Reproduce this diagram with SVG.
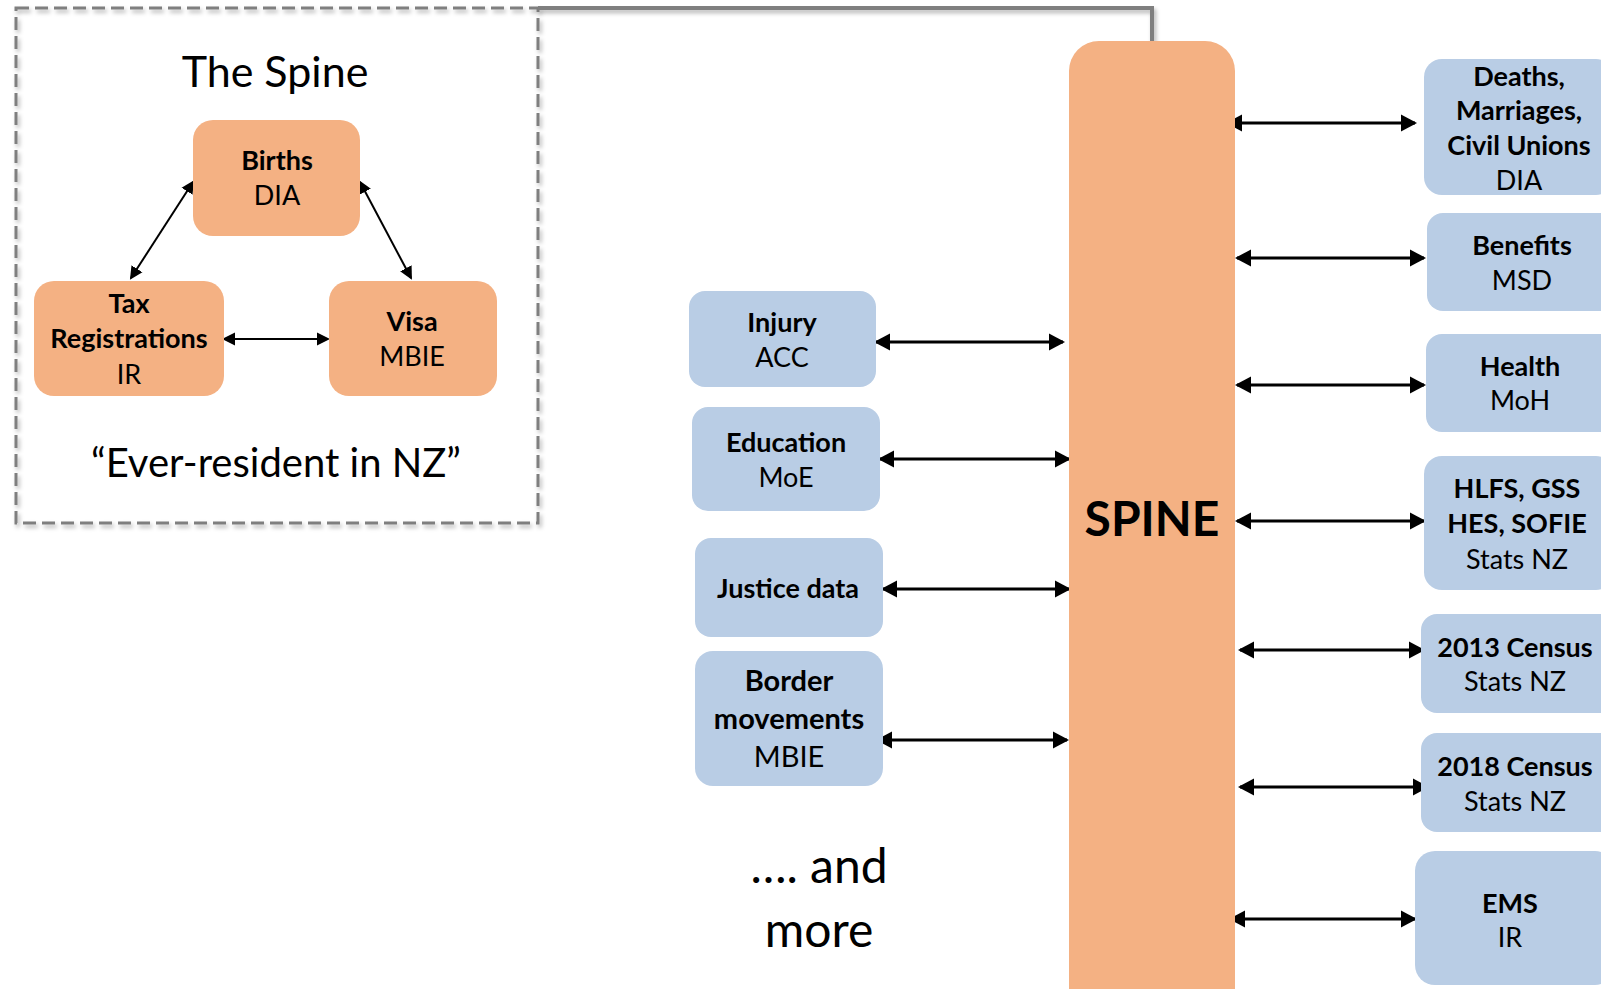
<svg xmlns="http://www.w3.org/2000/svg" width="1601" height="989" viewBox="0 0 1601 989">
<defs>
<style>
.o{fill:#F4B183}
.b{fill:#B9CDE5}
.t{font-family:Lato,"Noto Sans",sans-serif;fill:#000;text-anchor:middle}
.h{font-weight:bold;font-size:27px}
.r{font-weight:normal;font-size:27px}
.big{font-weight:normal;font-size:43px}
.c{stroke:#000;stroke-width:3;fill:none;marker-start:url(#ah);marker-end:url(#ah)}
.cs{stroke:#000;stroke-width:2;fill:none;marker-start:url(#as);marker-end:url(#as)}
</style>
<marker id="ah" markerUnits="userSpaceOnUse" markerWidth="18" markerHeight="18" refX="14" refY="9" orient="auto-start-reverse" viewBox="0 0 18 18">
<path d="M0,0.5 L16,9 L0,17.5 z" fill="#000"/>
</marker>
<marker id="as" markerUnits="userSpaceOnUse" markerWidth="14" markerHeight="14" refX="11" refY="7" orient="auto-start-reverse" viewBox="0 0 14 14">
<path d="M0,0.5 L13,7 L0,13.5 z" fill="#000"/>
</marker>
<filter id="sh" x="-5%" y="-5%" width="110%" height="110%">
<feDropShadow dx="2" dy="3" stdDeviation="2" flood-color="#000" flood-opacity="0.3"/>
</filter>
</defs>

<g id="spine-frame" filter="url(#sh)">
<rect x="16" y="8" width="522" height="515" fill="none" stroke="#7F7F7F" stroke-width="3" stroke-dasharray="13 6"/>
</g>

<g id="connectors">
<polyline points="538,8 1152,8 1152,41" fill="none" stroke="#7F7F7F" stroke-width="4" filter="url(#sh)"/>
<line class="cs" x1="193" y1="182" x2="131" y2="278"/>
<line class="cs" x1="360" y1="182" x2="411" y2="278"/>
<line class="cs" x1="224" y1="339" x2="328" y2="339"/>
<line class="c" x1="1228" y1="123" x2="1415" y2="123"/>
<line class="c" x1="1237" y1="258" x2="1424" y2="258"/>
<line class="c" x1="1237" y1="385" x2="1424" y2="385"/>
<line class="c" x1="1237" y1="521" x2="1424" y2="521"/>
<line class="c" x1="1240" y1="650" x2="1423" y2="650"/>
<line class="c" x1="1240" y1="787" x2="1427" y2="787"/>
<line class="c" x1="1231" y1="919" x2="1415" y2="919"/>
<line class="c" x1="876" y1="342" x2="1063" y2="342"/>
<line class="c" x1="880" y1="459" x2="1069" y2="459"/>
<line class="c" x1="883" y1="589" x2="1069" y2="589"/>
<line class="c" x1="878" y1="740" x2="1067" y2="740"/>
</g>

<g id="title">
<text class="t big" x="275" y="87">The Spine</text>
<text class="t" style="font-size:40px" x="276" y="477">“Ever-resident in NZ”</text>
</g>

<g id="births">
<rect class="o" x="193" y="120" width="167" height="116" rx="20"/>
<text class="t h" x="277" y="170">Births</text>
<text class="t r" x="277" y="205">DIA</text>
</g>
<g id="tax">
<rect class="o" x="34" y="281" width="190" height="115" rx="20"/>
<text class="t h" x="129" y="313">Tax</text>
<text class="t h" x="129" y="348">Registrations</text>
<text class="t r" x="129" y="384">IR</text>
</g>
<g id="visa">
<rect class="o" x="329" y="281" width="168" height="115" rx="20"/>
<text class="t h" x="412" y="331">Visa</text>
<text class="t r" x="412" y="366">MBIE</text>
</g>

<g id="spine">
<rect class="o" x="1069" y="41" width="166" height="980" rx="30"/>
<text class="t" style="font-weight:bold;font-size:48px" x="1152" y="536">SPINE</text>
</g>

<g id="injury">
<rect class="b" x="689" y="291" width="187" height="96" rx="16"/>
<text class="t h" x="782" y="332">Injury</text>
<text class="t r" x="782" y="367">ACC</text>
</g>
<g id="education">
<rect class="b" x="692" y="407" width="188" height="104" rx="16"/>
<text class="t h" x="786" y="452">Education</text>
<text class="t r" x="786" y="487">MoE</text>
</g>
<g id="justice">
<rect class="b" x="695" y="538" width="188" height="99" rx="16"/>
<text class="t h" x="788" y="598">Justice data</text>
</g>
<g id="border">
<rect class="b" x="695" y="651" width="188" height="135" rx="18"/>
<text class="t h" style="font-size:29px" x="789" y="691">Border</text>
<text class="t h" style="font-size:29px" x="789" y="729">movements</text>
<text class="t r" style="font-size:29px" x="789" y="767">MBIE</text>
</g>
<g id="more">
<text class="t" style="font-size:48px" x="819" y="883">…. and</text>
<text class="t" style="font-size:48px" x="819" y="947">more</text>
</g>

<g id="deaths">
<rect class="b" x="1424" y="59" width="190" height="136" rx="18"/>
<text class="t h" x="1519" y="86">Deaths,</text>
<text class="t h" x="1519" y="120">Marriages,</text>
<text class="t h" x="1519" y="155">Civil Unions</text>
<text class="t r" x="1519" y="190">DIA</text>
</g>
<g id="benefits">
<rect class="b" x="1427" y="213" width="190" height="98" rx="16"/>
<text class="t h" x="1522" y="255">Benefits</text>
<text class="t r" x="1522" y="290">MSD</text>
</g>
<g id="health">
<rect class="b" x="1426" y="334" width="190" height="98" rx="16"/>
<text class="t h" x="1520" y="376">Health</text>
<text class="t r" x="1520" y="410">MoH</text>
</g>
<g id="hlfs">
<rect class="b" x="1424" y="456" width="190" height="134" rx="18"/>
<text class="t h" x="1517" y="498">HLFS, GSS</text>
<text class="t h" x="1517" y="533">HES, SOFIE</text>
<text class="t r" x="1517" y="569">Stats NZ</text>
</g>
<g id="census2013">
<rect class="b" x="1421" y="614" width="195" height="99" rx="16"/>
<text class="t h" x="1515" y="657">2013 Census</text>
<text class="t r" x="1515" y="691">Stats NZ</text>
</g>
<g id="census2018">
<rect class="b" x="1421" y="733" width="195" height="99" rx="16"/>
<text class="t h" x="1515" y="776">2018 Census</text>
<text class="t r" x="1515" y="811">Stats NZ</text>
</g>
<g id="ems">
<rect class="b" x="1415" y="851" width="200" height="134" rx="20"/>
<text class="t h" x="1510" y="913">EMS</text>
<text class="t r" x="1510" y="947">IR</text>
</g>
</svg>
